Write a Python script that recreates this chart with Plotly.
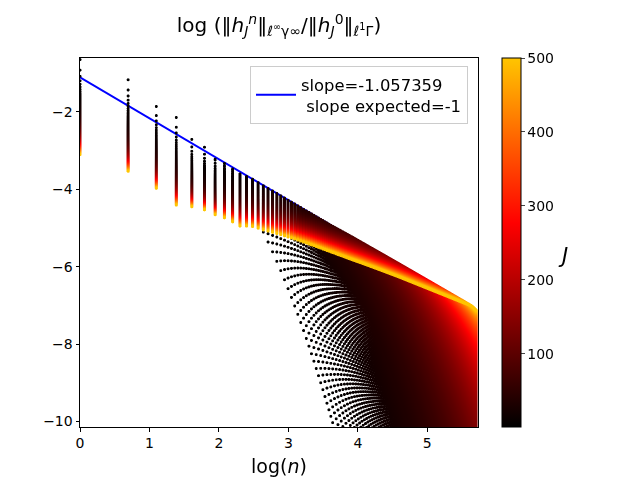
import numpy as np
import plotly.graph_objects as go

# ---- values ----
SLOPE = -1.057359          # fitted slope shown in legend
INTERCEPT = -1.11          # where the blue line meets x = 0
N_VALUES = np.arange(1, 301)   # time steps n
J_VALUES = np.arange(1, 501)   # parameter J (colour)

# knots (in n) for the column top relative to the fitted line, and the log-J spread
KNOT_N = [1, 2, 3, 4, 5, 6, 7, 8, 10, 12, 14, 20, 37, 50, 100, 300]
TOP_REL = [0.46, 0.67, 0.41, 0.43, 0.10, 0.09, -0.03, 0.0, -0.05, 0.0, 0.0, 0.0, 0.0, 0.02, 0.04, 0.06]
SPREAD_B = [0.395, 0.38, 0.34, 0.364, 0.28, 0.26, 0.26, 0.29, 0.32, 0.32, 0.325, 0.32, 0.315, 0.32, 0.31, 0.32]
# departure of each J from the algebraic band (read from the lower-left fan)
NC0, NC_PER_J = 6.0, 0.55
F_LIN, F_QUAD = 0.6, 1.3

X_RANGE = [0, 5.73]
Y_RANGE = [-10.14, -0.61]
X_TICKS = [0, 1, 2, 3, 4, 5]
Y_TICKS = [-10, -8, -6, -4, -2]
CB_TICKS = [100, 200, 300, 400, 500]

# ---- build point cloud ----
Jg, Ng = np.meshgrid(J_VALUES.astype(float), N_VALUES.astype(float), indexing="ij")
Xg = np.log(Ng)
line_g = INTERCEPT + SLOPE * Xg
top = line_g + np.interp(Xg, np.log(KNOT_N), TOP_REL)
b = np.interp(Xg, np.log(KNOT_N), SPREAD_B)
jstar = np.maximum(1.0, (Ng - NC0) / NC_PER_J)
nc = NC0 + NC_PER_J * Jg
s = np.clip(np.log(Ng / nc), 0, None)
Y = np.where(Jg >= jstar, top - b * np.log(Jg / jstar), top - (F_LIN * s + F_QUAD * s ** 2))

xs = Xg.ravel()
ys = Y.ravel()
cs = Jg.ravel()
keep = ys > Y_RANGE[0] - 0.3
xs, ys, cs = xs[keep], ys[keep], cs[keep]

colorscale = [[0.0, "#000000"], [0.553, "#ff0000"], [1.0, "#ffc500"]]

# page is drawn with an 8px body margin: figure coords = screen px - 8
OFF = 8
PL, PR, PT, PB = 80 - OFF, 478 - OFF, 58 - OFF, 427 - OFF
W, H = 632, 472
PW, PH = PR - PL, PB - PT

def px_x(px):
    return (px - OFF - PL) / PW

def px_y(py):
    return (PB - (py - OFF)) / PH

fig = go.Figure()
fig.add_trace(go.Scattergl(
    x=xs, y=ys, mode="markers",
    marker=dict(size=3, color=cs, colorscale=colorscale, cmin=1, cmax=500,
                line=dict(width=0),
                colorbar=dict(x=px_x(502), xanchor="left", xpad=0, ypad=0,
                              y=0.5, yanchor="middle", len=1, lenmode="fraction",
                              thickness=18.5, outlinecolor="black", outlinewidth=1,
                              tickvals=CB_TICKS, ticks="outside", ticklen=3.5,
                              tickfont=dict(size=14, color="black"))),
    showlegend=False, hoverinfo="skip"))

lx = np.log(N_VALUES)
fig.add_trace(go.Scatter(
    x=lx, y=INTERCEPT + SLOPE * lx, mode="lines",
    line=dict(color="#0000ff", width=2),
    name="slope=-1.057359<br> slope expected=-1"))

title = ("log (‖<i>h</i><sub><i>J</i></sub><sup><i>n</i></sup>‖<sub>ℓ<sup>∞</sup>γ∞</sub>"
         "/‖<i>h</i><sub><i>J</i></sub><sup>0</sup>‖<sub>ℓ<sup>1</sup>Γ</sub>)")

axis_common = dict(showline=True, linecolor="black", linewidth=1, mirror=True,
                   ticks="outside", ticklen=3.5, tickwidth=1, tickcolor="black",
                   showgrid=False, zeroline=False, tickfont=dict(size=14, color="black"))

fig.update_layout(
    width=W, height=H,
    margin=dict(l=PL, r=W - PR, t=PT, b=H - PB, autoexpand=False),
    paper_bgcolor="white", plot_bgcolor="white",
    font=dict(family="DejaVu Sans", color="black"),
    title=dict(text=title, x=(279 - OFF) / W, xanchor="center", y=1 - (25 - OFF) / H,
               yanchor="middle", font=dict(size=20)),
    xaxis=dict(range=X_RANGE, tickvals=X_TICKS,
               title=dict(text="log(<i>n</i>)", font=dict(size=19), standoff=9), **axis_common),
    yaxis=dict(range=Y_RANGE, tickvals=Y_TICKS, **axis_common),
    legend=dict(x=px_x(468), xanchor="right", y=px_y(66), yanchor="top",
                bordercolor="#cccccc", borderwidth=1, bgcolor="rgba(255,255,255,0.8)",
                itemwidth=40, font=dict(size=16.4)),
    annotations=[dict(text="<i>J</i>", x=px_x(563), y=px_y(256),
                      xref="paper", yref="paper", showarrow=False,
                      font=dict(size=21), xanchor="center", yanchor="middle")],
)

fig.write_html("out.html")
